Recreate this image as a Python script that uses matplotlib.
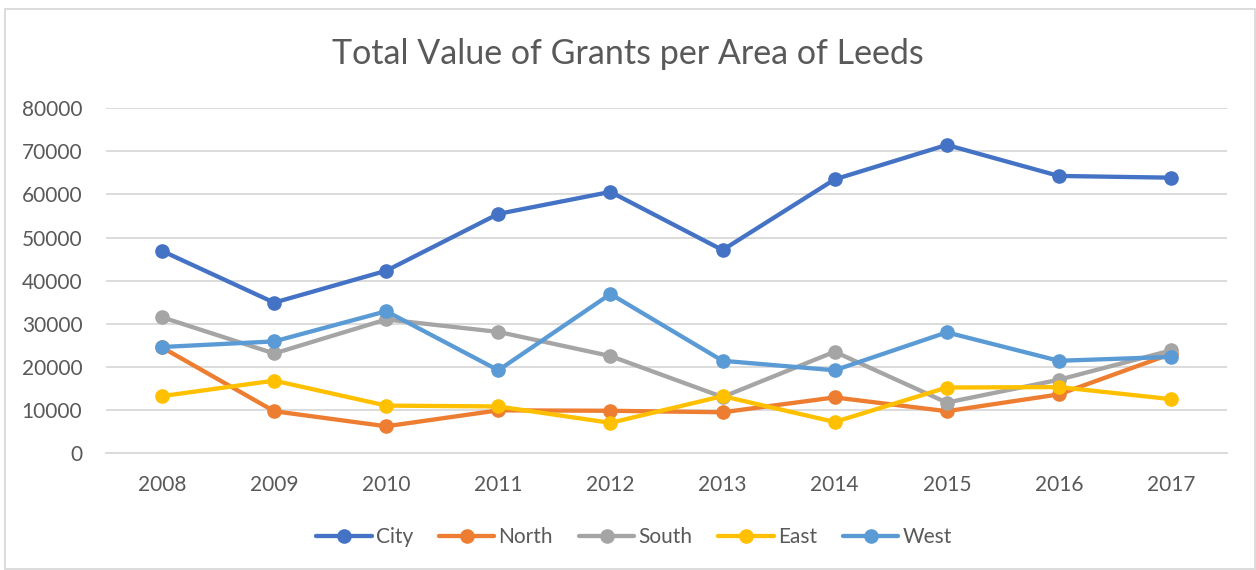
import matplotlib
matplotlib.use("Agg")
import matplotlib.pyplot as plt
from matplotlib.patches import Rectangle

years = ["2008", "2009", "2010", "2011", "2012", "2013", "2014", "2015", "2016", "2017"]
city = [46900, 34900, 42300, 55500, 60600, 47100, 63500, 71500, 64300, 63900]
north = [24500, 9700, 6200, 9900, 9800, 9450, 12900, 9700, 13600, 23000]
south = [31500, 23100, 31000, 28100, 22500, 13000, 23500, 11700, 17000, 23800]
east = [13200, 16800, 11000, 10800, 7000, 13200, 7200, 15200, 15300, 12500]
west = [24600, 25900, 32900, 19200, 36900, 21400, 19200, 28000, 21400, 22300]

series_names = ["City", "North", "South", "East", "West"]
colors = ["#4472C4", "#ED7D31", "#A5A5A5", "#FFC000", "#5B9BD5"]
yticks = [0, 10000, 20000, 30000, 40000, 50000, 60000, 70000, 80000]

plt.rcParams['font.family'] = ['Lato', 'DejaVu Sans']

fig = plt.figure(figsize=(12.56, 5.70), dpi=100)
ax = fig.add_axes([106/1256, 117/570, (1227-106)/1256, (453-108.3)/570])

x = list(range(len(years)))
for name, vals, c in zip(series_names, [city, north, south, east, west], colors):
    ax.plot(x, vals, color=c, lw=3.1, marker='o', markersize=9.5, label=name,
            solid_joinstyle='round', solid_capstyle='round')

ax.set_xlim(-0.5, len(years) - 0.5)
ax.set_ylim(0, 80000)
ax.set_yticks(yticks)
ax.set_yticklabels([str(v) for v in yticks])
ax.set_xticks(x)
ax.set_xticklabels(years)
ax.grid(axis='y', color='#D9D9D9', lw=1.3)
ax.set_axisbelow(True)
for s in ['top', 'right', 'left']:
    ax.spines[s].set_visible(False)
ax.spines['bottom'].set_color('#D9D9D9')
ax.spines['bottom'].set_linewidth(1.3)
ax.tick_params(axis='both', length=0, labelsize=15, colors='#595959')
ax.tick_params(axis='y', pad=17)
ax.tick_params(axis='x', pad=16)

fig.text(0.5, 1 - 54/570, "Total Value of Grants per Area of Leeds", ha='center', va='center',
         fontsize=24.5, color='#595959')

leg = fig.legend(loc='center', bbox_to_anchor=(634/1256, 1 - 537/570), ncol=5, frameon=False,
                 fontsize=15, handlelength=2.65, handletextpad=0.2, columnspacing=1.25)
for t in leg.get_texts():
    t.set_color('#595959')

fig.patches.append(Rectangle((5/1256, 0.002), 1250/1256, 1 - 9/570 - 0.002, transform=fig.transFigure,
                             fill=False, edgecolor='#D9D9D9', lw=1.3))

fig.savefig("out.png", dpi=100, facecolor='white')
